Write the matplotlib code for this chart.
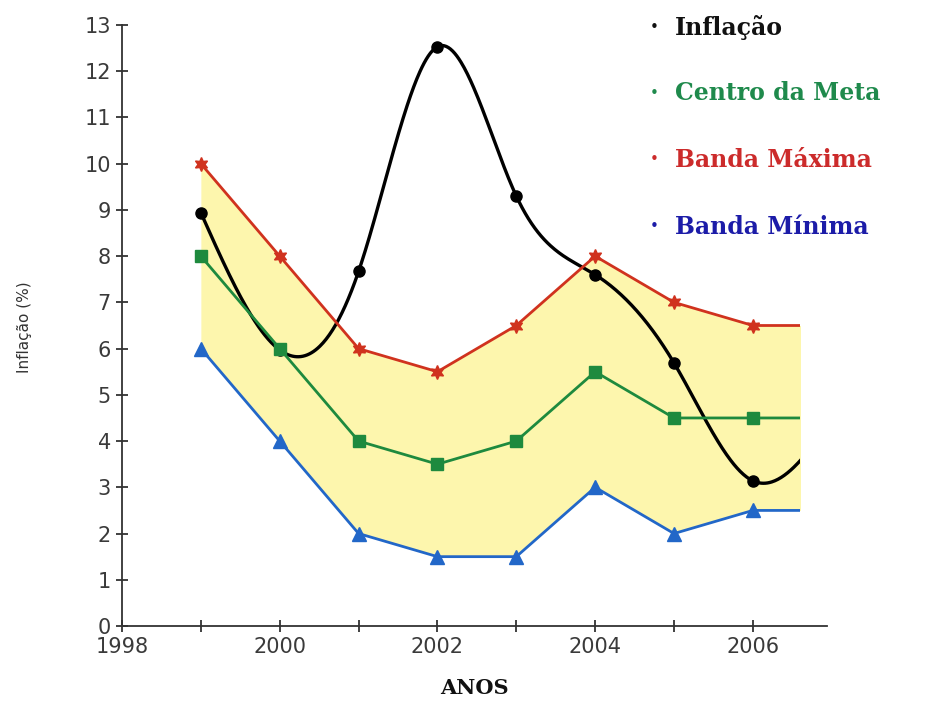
import numpy as np
import matplotlib
matplotlib.use("Agg")
import matplotlib.pyplot as plt
from matplotlib.patches import Rectangle

# dados (IPCA e metas de inflação)
anos = [1999, 2000, 2001, 2002, 2003, 2004, 2005, 2006, 2007]
inflacao = [8.94, 5.97, 7.67, 12.53, 9.30, 7.60, 5.69, 3.14, 4.46]
centro_meta = [8.0, 6.0, 4.0, 3.5, 4.0, 5.5, 4.5, 4.5, 4.5]
banda_max = [10.0, 8.0, 6.0, 5.5, 6.5, 8.0, 7.0, 6.5, 6.5]
banda_min = [6.0, 4.0, 2.0, 1.5, 1.5, 3.0, 2.0, 2.5, 2.5]
fim_grafico = 2006.6  # onde as séries são cortadas

legenda = ["Inflação", "Centro da Meta", "Banda Máxima", "Banda Mínima"]
cores_legenda = ["#111111", "#1f8a4c", "#cc2b2b", "#1c1ca8"]


def spline_natural(x, y, xs):
    # spline cúbica natural simples (sem scipy)
    x = np.asarray(x, float)
    y = np.asarray(y, float)
    n = len(x)
    h = np.diff(x)
    A = np.zeros((n, n))
    b = np.zeros(n)
    A[0, 0] = 1
    A[-1, -1] = 1
    for i in range(1, n - 1):
        A[i, i - 1] = h[i - 1]
        A[i, i] = 2 * (h[i - 1] + h[i])
        A[i, i + 1] = h[i]
        b[i] = 6 * ((y[i + 1] - y[i]) / h[i] - (y[i] - y[i - 1]) / h[i - 1])
    M = np.linalg.solve(A, b)
    idx = np.clip(np.searchsorted(x, xs) - 1, 0, n - 2)
    x0, x1 = x[idx], x[idx + 1]
    hh = x1 - x0
    t0 = x1 - xs
    t1 = xs - x0
    return (M[idx] * t0**3 / (6 * hh) + M[idx + 1] * t1**3 / (6 * hh)
            + (y[idx] / hh - M[idx] * hh / 6) * t0
            + (y[idx + 1] / hh - M[idx + 1] * hh / 6) * t1)


fig = plt.figure(figsize=(9.28, 7.01), dpi=100)
ax = fig.add_axes([122 / 928, 75 / 701, 705 / 928, 601 / 701])

clip = Rectangle((1990, -5), fim_grafico - 1990, 30, transform=ax.transData)

faixa = ax.fill_between(anos, banda_min, banda_max, color="#fdf6ad", lw=0, zorder=1)
faixa.set_clip_path(clip)

xs = np.linspace(anos[0], anos[-1], 600)
curva, = ax.plot(xs, spline_natural(anos, inflacao, xs), color="black", lw=2.4, zorder=2)
curva.set_clip_path(clip)
pts, = ax.plot(anos, inflacao, "o", color="black", ms=8, zorder=2)
pts.set_clip_path(clip)

series = [
    (centro_meta, "#1e8a3e", "s", 8),
    (banda_max, "#d0321e", (6, 1, 0), 10),
    (banda_min, "#2267c8", "^", 10),
]
for vals, cor, mk, ms in series:
    ln, = ax.plot(anos, vals, color=cor, lw=2, marker=mk, ms=ms,
                  markeredgecolor=cor, zorder=3)
    ln.set_clip_path(clip)

ax.set_xlim(1998, 2006.94)
ax.set_ylim(0, 13)
ax.set_xticks([1998, 2000, 2002, 2004, 2006])
ax.set_xticks([1999, 2001, 2003, 2005], minor=True)
ax.set_yticks(range(0, 14))

for s in ["top", "right"]:
    ax.spines[s].set_visible(False)
for s in ["left", "bottom"]:
    ax.spines[s].set_color("#333333")
    ax.spines[s].set_linewidth(1.3)

ax.tick_params(which="both", direction="inout", length=8, width=1.3,
               color="#333333", labelcolor="#3a3a3a", labelsize=15, pad=4)

fig.text(25 / 928, 1 - 327 / 701, "Inflação (%)", rotation=90, ha="center", va="center",
         fontsize=11, family=["Liberation Sans Narrow", "DejaVu Sans"], color="#333333")
fig.text(474 / 928, 1 - 688 / 701, "ANOS", ha="center", va="center",
         fontsize=15, family="DejaVu Serif", weight="bold", color="#111111")

for i, (nome, cor) in enumerate(zip(legenda, cores_legenda)):
    y = 1 - (27 + i * 66.5) / 701
    fig.text(654 / 928, y, "•", ha="center", va="center", fontsize=11, color=cor)
    fig.text(675 / 928, y, nome, ha="left", va="center", fontsize=17,
             family="DejaVu Serif", weight="bold", color=cor)

fig.savefig("out.png", dpi=100)
